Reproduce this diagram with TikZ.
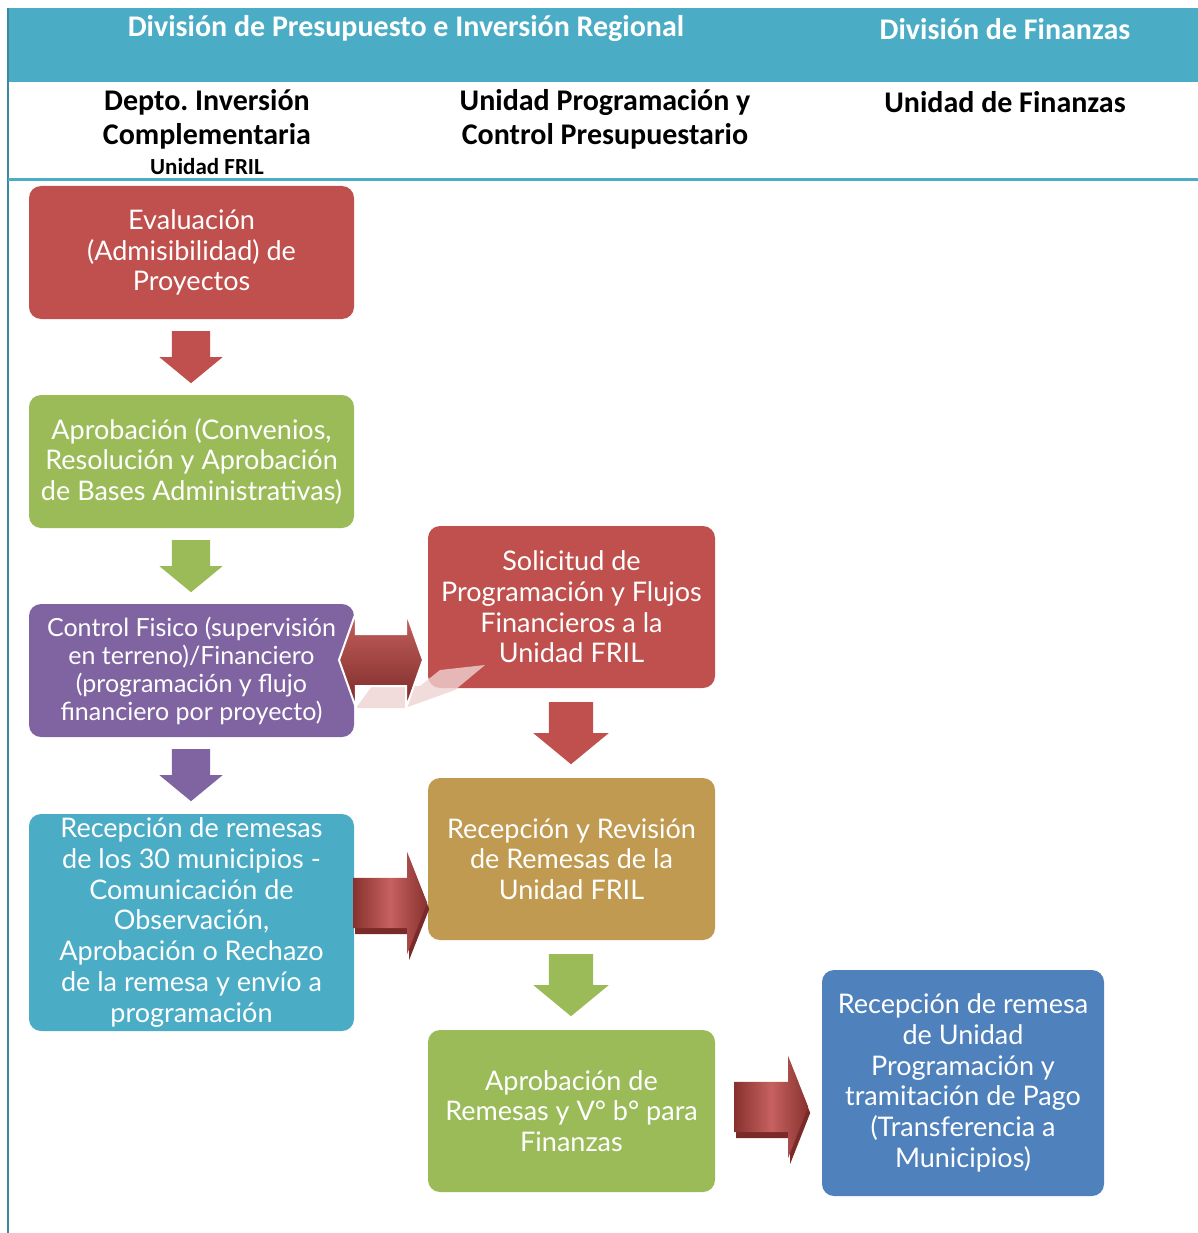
\documentclass[tikz,border=0pt]{standalone}
\usepackage{fontspec}
\setmainfont{Lato}
\newfontfamily\headfont{Carlito}
\usetikzlibrary{shapes.arrows}

\definecolor{teal}{HTML}{4BACC6}
\definecolor{boxred}{HTML}{C0504D}
\definecolor{boxgreen}{HTML}{9BBB59}
\definecolor{boxpurple}{HTML}{8064A2}
\definecolor{boxgold}{HTML}{C09A50}
\definecolor{boxblue}{HTML}{4F81BD}
\definecolor{darkred}{HTML}{7A2A28}

\begin{document}
\begin{tikzpicture}[x=1pt,y=-1pt]
    \tikzset{
        stepbox/.style={rounded corners=12pt,text=white,align=center,inner sep=4pt,
            font=\fontsize{27}{30.7}\selectfont},
        leftbox/.style={stepbox,minimum width=325,minimum height=133},
        midbox/.style={stepbox,minimum width=287,minimum height=162},
        head/.style={font=\headfont\bfseries\fontsize{30}{34}\selectfont,align=center},
        downarr/.style={single arrow,rotate=-90,anchor=tail,inner xsep=0pt,inner ysep=19pt,
            minimum height=52,single arrow head extend=12.5,single arrow tip angle=101},
        bigdownarr/.style={downarr,inner ysep=22pt,minimum height=62,
            single arrow head extend=15.5},
        rightarr/.style={single arrow,anchor=tail,inner xsep=0pt,inner ysep=25pt,minimum height=74,
            single arrow head extend=26,single arrow tip angle=137},
        shadedarr/.style={rightarr,left color=darkred!80!boxred,right color=darkred!80!boxred,
            middle color=boxred!90!white}
    }
    \useasboundingbox (0,0) rectangle (1198,1233);

    % header
    \fill[teal] (8,8) rectangle (1198,82);
    \draw[teal!80!black,line width=2] (8,8) -- (8,1233);
    \draw[teal,line width=3] (8,180) -- (1198,180);
    \node[head,text=white] (div1) at (406,29) {División de Presupuesto e Inversión Regional};
    \node[head,text=white] (div2) at (1005,29) {División de Finanzas};
    \node[head] (col1) at (207,119) {Depto.\ Inversión\\Complementaria};
    \node[head,font=\headfont\bfseries\fontsize{23}{26}\selectfont] (col1b) at (207,167) {Unidad FRIL};
    \node[head] (col2) at (605,119) {Unidad Programación y\\Control Presupuestario};
    \node[head] (col3) at (1005,102) {Unidad de Finanzas};

    % boxes
    \node[leftbox,fill=boxred] (eval) at (191.5,252.5) {Evaluación\\(Admisibilidad) de\\Proyectos};
    \node[leftbox,fill=boxgreen] (aprob) at (191.5,461.5) {Aprobación (Convenios,\\Resolución y Aprobación\\de Bases Administrativas)};
    \node[leftbox,fill=boxpurple,font=\fontsize{25}{28}\selectfont] (control) at (191.5,670.5)
        {Control Fisico (supervisión\\en terreno)/Financiero\\(programación y flujo\\financiero por proyecto)};
    \node[leftbox,fill=teal,minimum height=217] (remesas) at (191.5,922.5)
        {Recepción de remesas\\de los 30 municipios -\\Comunicación de\\Observación,\\Aprobación o Rechazo\\de la remesa y envío a\\programación};
    \node[midbox,fill=boxred] (solic) at (571.5,607) {Solicitud de\\Programación y Flujos\\Financieros a la\\Unidad FRIL};
    \node[midbox,fill=boxgold] (revis) at (571.5,859) {Recepción y Revisión\\de Remesas de la\\Unidad FRIL};
    \node[midbox,fill=boxgreen] (aprobrem) at (571.5,1111) {Aprobación de\\Remesas y V° b° para\\Finanzas};
    \node[stepbox,fill=boxblue,minimum width=282,minimum height=226] (pago) at (963,1083)
        {Recepción de remesa\\de Unidad\\Programación y\\tramitación de Pago\\(Transferencia a\\Municipios)};

    % block arrows
    \node[downarr,fill=boxred] (a1) at (191,331) {};
    \node[downarr,fill=boxgreen] (a2) at (191,540) {};
    \node[downarr,fill=boxpurple] (a3) at (191,749) {};
    \node[bigdownarr,fill=boxred] (a4) at (571,702) {};
    \node[bigdownarr,fill=boxgreen] (a5) at (571,954) {};

    \node[rightarr,fill=darkred] (a6s) at (355,909) {};
    \node[shadedarr] (a6) at (353,903) {};
    \node[rightarr,fill=darkred] (a7s) at (736,1113) {};
    \node[shadedarr] (a7) at (734,1107) {};

    % double arrow with reflection
    \fill[boxred!25,opacity=0.8] (356,708) -- (372,686) -- (420,686) -- (405,708) -- cycle;
    \fill[boxred!25,opacity=0.8] (405,708) -- (420,686) -- (440,670) -- (485,665) -- (455,690) -- cycle;
    \node[double arrow,draw=white,line width=2,inner xsep=0pt,inner ysep=25pt,minimum height=84,
        double arrow head extend=21.5,double arrow tip angle=141,
        top color=boxred!90!white,bottom color=darkred] (dbl) at (381,660) {};
\end{tikzpicture}
\end{document}
